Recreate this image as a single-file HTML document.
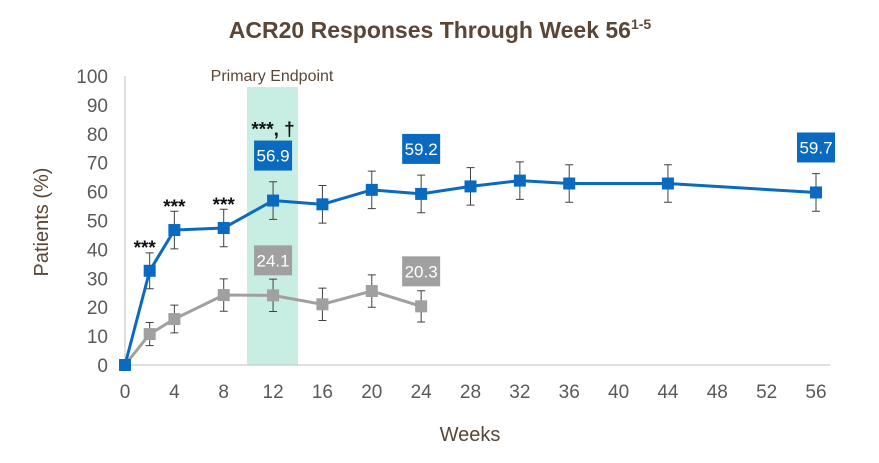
<!DOCTYPE html>
<html><head><meta charset="utf-8"><style>
body{margin:0;background:#fff;}
svg text{font-family:"Liberation Sans",sans-serif;}
</style></head><body>
<svg id="chart" width="879" height="458">
<text x="440" y="38" text-anchor="middle" font-size="23" font-weight="bold" fill="#5a4636">ACR20 Responses Through Week 56<tspan font-size="14" dy="-9">1-5</tspan></text>
<g id="plot"></g>
</svg>
<script>
const xTicks=[0,4,8,12,16,20,24,28,32,36,40,44,48,52,56];
const yTicks=[0,10,20,30,40,50,60,70,80,90,100];
const blueWeeks=[0,2,4,8,12,16,20,24,28,32,36,44,56];
const blueVals=[0,32.6,46.7,47.4,56.9,55.6,60.6,59.2,61.8,63.8,62.8,62.8,59.7];
const blueErr=[0,6.2,6.5,6.5,6.5,6.5,6.5,6.5,6.5,6.5,6.5,6.5,6.5];
const grayWeeks=[0,2,4,8,12,16,20,24];
const grayVals=[0,10.7,15.9,24.2,24.1,21,25.6,20.3];
const grayErr=[0,4,4.8,5.6,5.6,5.6,5.6,5.4];
const blueLabels=[[12,56.9],[24,59.2],[56,59.7]];
const grayLabels=[[12,24.1],[24,20.3]];
const stars=[[2,"***"],[4,"***"],[8,"***"],[12,"***, †"]];
const X=w=>125+w*(691/56), Y=v=>365-v*2.89;
const g=document.getElementById('plot');
const NS='http://www.w3.org/2000/svg';
function mk(t,a,txt){const e=document.createElementNS(NS,t);for(const k in a)e.setAttribute(k,a[k]);if(txt!==undefined)e.textContent=txt;g.appendChild(e);return e;}
let e;
e=mk('rect',{x:247,y:87,width:51,height:278,fill:'#c8ede2'});


e=mk('text',{x:272,y:81,'text-anchor':'middle','font-size':16,fill:'#5a4636'},'Primary Endpoint');


e=mk('line',{x1:125,y1:76,x2:125,y2:365,stroke:'#bfbfbf'});


e=mk('line',{x1:125,y1:365,x2:830,y2:365,stroke:'#bfbfbf'});


yTicks.forEach(v=>{e=mk('text',{x:108,y:Y(v)+7,'text-anchor':'end','font-size':19,fill:'#595959'},v);

});
xTicks.forEach(v=>{e=mk('text',{x:X(v),y:398,'text-anchor':'middle','font-size':19,fill:'#595959'},v);

});
e=mk('text',{x:470,y:441,'text-anchor':'middle','font-size':20,fill:'#5a4636'},'Weeks');


e=mk('text',{x:0,y:0,transform:'translate(48,222) rotate(-90)','text-anchor':'middle','font-size':20,fill:'#5a4636'},'Patients (%)');


function series(ws,vs,es,col,name){
 ws.forEach((w,i)=>{if(es[i]>0){e=mk('path',{d:`M${X(w)},${Y(vs[i]+es[i])}V${Y(vs[i]-es[i])}M${X(w)-4},${Y(vs[i]+es[i])}h8M${X(w)-4},${Y(vs[i]-es[i])}h8`,stroke:'#404040','stroke-width':1,fill:'none'});
 
 }});
 e=mk('polyline',{points:ws.map((w,i)=>X(w)+','+Y(vs[i])).join(' '),fill:'none',stroke:col,'stroke-width':3});
 
 
 ws.forEach((w,i)=>{e=mk('rect',{x:X(w)-6,y:Y(vs[i])-6,width:12,height:12,fill:col});
 
 });
}
series(grayWeeks,grayVals,grayErr,'#a0a0a0','placebo');
series(blueWeeks,blueVals,blueErr,'#0a6ac0','treatment');
function labels(arr,col,yoff,name){arr.forEach(([w,v])=>{const cx=X(w),cy=Y(v)-yoff;
 e=mk('rect',{x:cx-19,y:cy-15,width:38,height:30,fill:col});
 
 
 e=mk('text',{x:cx,y:cy+6,'text-anchor':'middle','font-size':17,fill:'#fff'},v.toFixed(1));
 
 });}
labels(blueLabels,'#0a6ac0',45,'treatment');
labels(grayLabels,'#a0a0a0',35,'placebo');
stars.forEach(([w,s],i)=>{const v=blueVals[blueWeeks.indexOf(w)];const yy=w===12?Y(v)-65:Y(v)-17;
 e=mk('text',{x:X(w)-(w===2?5:0),y:yy,'text-anchor':'middle','font-size':19,'font-weight':'bold',fill:'#111'},s);
 
 });
</script>
</body></html>
